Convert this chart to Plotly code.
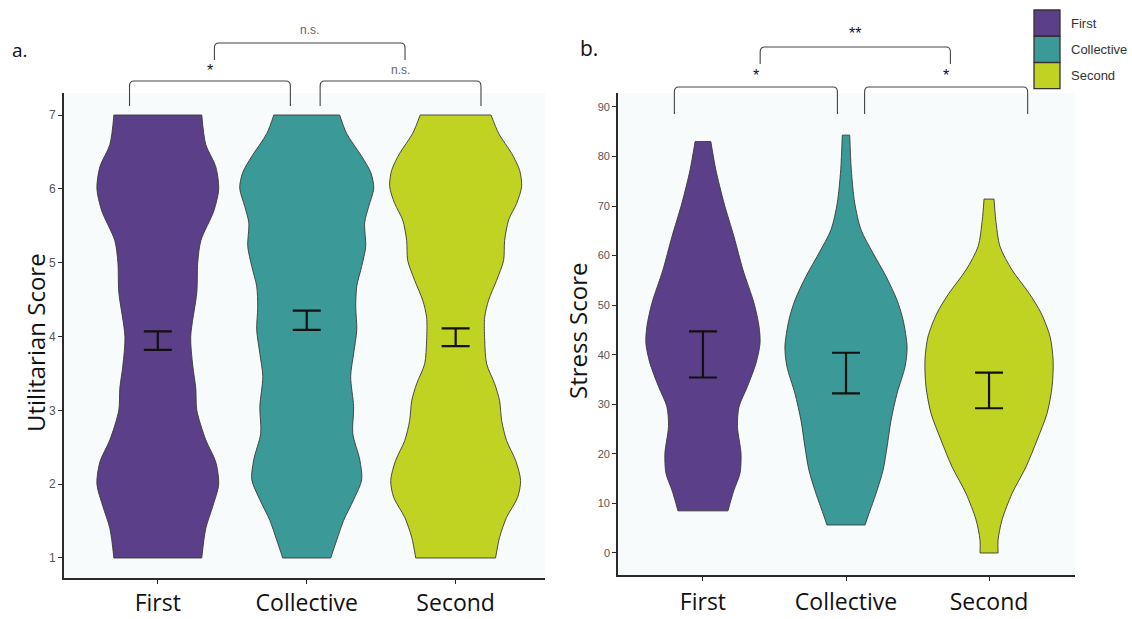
import numpy as np
import plotly.graph_objects as go

W, H = 1132, 619

categories = ["First", "Collective", "Second"]
colors = ["#5b3f88", "#3b9a97", "#c0d322"]

# ---- Panel a: Utilitarian Score violin profiles (score level, half-width in category units)
util_first_levels = [1.0, 1.4, 1.7, 2.0, 2.3, 2.6, 3.0, 3.3, 3.6, 4.0, 4.6, 5.0, 5.3, 5.7, 6.0, 6.3, 6.6, 7.0]
util_first_width = [0.295, 0.322, 0.369, 0.409, 0.389, 0.322, 0.262, 0.255, 0.235, 0.221, 0.262, 0.268,
                    0.289, 0.376, 0.409, 0.389, 0.322, 0.295]
util_coll_levels = [1.0, 1.24, 1.51, 1.79, 2.06, 2.33, 2.69, 3.05, 3.46, 3.77, 4.09, 4.40, 4.68, 4.95,
                    5.22, 5.54, 5.76, 6.01, 6.22, 6.44, 6.75, 7.0]
util_coll_width = [0.161, 0.201, 0.248, 0.315, 0.369, 0.356, 0.309, 0.315, 0.295, 0.315, 0.336, 0.329,
                   0.336, 0.369, 0.396, 0.389, 0.416, 0.450, 0.430, 0.369, 0.268, 0.221]
util_second_levels = [1.0, 1.28, 1.55, 1.82, 2.05, 2.32, 2.59, 2.86, 3.13, 3.36, 3.63, 3.95, 4.26, 4.49,
                      4.76, 5.03, 5.30, 5.58, 5.80, 6.03, 6.25, 6.48, 6.75, 7.0]
util_second_width = [0.268, 0.295, 0.342, 0.416, 0.436, 0.403, 0.342, 0.309, 0.295, 0.262, 0.208, 0.195,
                     0.195, 0.221, 0.275, 0.322, 0.329, 0.356, 0.409, 0.443, 0.430, 0.376, 0.289, 0.238]
util_ci_low = [3.82, 4.09, 3.87]
util_ci_high = [4.07, 4.35, 4.11]
util_ticks = [1, 2, 3, 4, 5, 6, 7]

# ---- Panel b: Stress Score violin profiles
stress_first_levels = [8.5, 10.0, 12.7, 16.1, 20.1, 25.5, 29.5, 33.6, 38.3, 42.3, 45.7, 50.4, 57.1,
                       63.8, 70.6, 77.3, 83.0]
stress_first_width = [0.175, 0.189, 0.217, 0.259, 0.266, 0.241, 0.252, 0.311, 0.371, 0.399, 0.392,
                      0.357, 0.280, 0.217, 0.147, 0.090, 0.055]
stress_coll_levels = [5.65, 8.0, 12.0, 16.7, 21.4, 26.8, 32.2, 37.6, 41.6, 47.0, 51.0, 55.8, 60.5,
                      65.2, 70.6, 77.3, 84.3]
stress_coll_width = [0.133, 0.161, 0.210, 0.259, 0.287, 0.315, 0.357, 0.413, 0.427, 0.399, 0.357,
                     0.280, 0.189, 0.105, 0.061, 0.037, 0.026]
stress_second_levels = [0.0, 2.6, 6.7, 12.0, 17.4, 22.8, 28.2, 33.6, 38.9, 43.6, 48.4, 52.4, 57.1,
                        61.8, 67.2, 71.4]
stress_second_width = [0.063, 0.063, 0.091, 0.161, 0.259, 0.336, 0.406, 0.441, 0.448, 0.427, 0.364,
                       0.280, 0.161, 0.077, 0.047, 0.035]
stress_ci_low = [35.4, 32.2, 29.2]
stress_ci_high = [44.7, 40.4, 36.4]
stress_ticks = [0, 10, 20, 30, 40, 50, 60, 70, 80, 90]

# significance comparisons: (x start, x end, label, tier)
util_sig = [(-0.19, 0.89, "*", 0), (1.09, 2.17, "n.s.", 0), (0.38, 1.66, "n.s.", 1)]
stress_sig = [(-0.20, 0.94, "*", 0), (1.13, 2.27, "*", 0), (0.40, 1.73, "**", 1)]


def py(p):
    return 1 - p / H


def px(p):
    return p / W


fig = go.Figure()
OUTLINE = "#3a3a3a"


def add_violin(i, levels, widths, color, xa, ya):
    lv = np.asarray(levels, dtype=float)
    hw = np.asarray(widths, dtype=float)
    side = dict(color=OUTLINE, width=0.9, shape="spline", smoothing=0.8)
    common = dict(xaxis=xa, yaxis=ya, hoverinfo="skip", showlegend=False, mode="lines")
    fig.add_trace(go.Scatter(x=i - hw, y=lv, line=side, **common))
    fig.add_trace(go.Scatter(x=i + hw, y=lv, line=side, fill="tonextx", fillcolor=color, **common))
    fig.add_trace(go.Scatter(x=[i - hw[0], i + hw[0], None, i - hw[-1], i + hw[-1]],
                             y=[lv[0], lv[0], None, lv[-1], lv[-1]],
                             line=dict(color=OUTLINE, width=0.9), **common))


def add_ci(lo, hi, xa, ya):
    lo = np.asarray(lo); hi = np.asarray(hi)
    mid = (lo + hi) / 2
    fig.add_trace(go.Scatter(x=list(range(len(mid))), y=mid, mode="markers",
                             marker=dict(size=1, color="rgba(0,0,0,0)"),
                             error_y=dict(type="data", symmetric=False, array=hi - mid,
                                          arrayminus=mid - lo, width=14, thickness=2.2,
                                          color="#111111"),
                             xaxis=xa, yaxis=ya, hoverinfo="skip", showlegend=False))


add_violin(0, util_first_levels, util_first_width, colors[0], "x", "y")
add_violin(1, util_coll_levels, util_coll_width, colors[1], "x", "y")
add_violin(2, util_second_levels, util_second_width, colors[2], "x", "y")
add_violin(0, stress_first_levels, stress_first_width, colors[0], "x2", "y2")
add_violin(1, stress_coll_levels, stress_coll_width, colors[1], "x2", "y2")
add_violin(2, stress_second_levels, stress_second_width, colors[2], "x2", "y2")
add_ci(util_ci_low, util_ci_high, "x", "y")
add_ci(stress_ci_low, stress_ci_high, "x2", "y2")

shapes = []
annotations = []


def add_brackets(sig, xref, tiers, dx):
    for x0, x1, label, tier in sig:
        top_px, bot_px, txt_px = tiers[tier]
        yt, yb = py(top_px), py(bot_px)
        r = 5 / H
        path = (f"M {x0},{yb} L {x0},{yt - r} Q {x0},{yt} {x0 + dx},{yt} "
                f"L {x1 - dx},{yt} Q {x1},{yt} {x1},{yt - r} L {x1},{yb}")
        shapes.append(dict(type="path", path=path, xref=xref, yref="paper",
                           line=dict(color="#444444", width=1.1), layer="above"))
        is_ns = label == "n.s."
        annotations.append(dict(x=(x0 + x1) / 2, y=py(txt_px), xref=xref, yref="paper",
                                text=label, showarrow=False, xanchor="center", yanchor="middle",
                                font=dict(family="Liberation Sans", size=12 if is_ns else 16,
                                          color="#666666" if is_ns else "#111111")))


add_brackets(util_sig, "x", {0: (81, 106, 70), 1: (43, 60, 30)}, 0.03)
add_brackets(stress_sig, "x2", {0: (87, 114, 75), 1: (47, 64, 33)}, 0.03)

# axis titles and panel letters
txt = dict(xref="paper", yref="paper", showarrow=False, xanchor="center", yanchor="middle")
annotations += [
    dict(x=px(35), y=py(343), text="Utilitarian Score", textangle=-90,
         font=dict(family="Open Sans", size=24, color="#111111"), **txt),
    dict(x=px(577), y=py(331), text="Stress Score", textangle=-90,
         font=dict(family="Open Sans", size=24, color="#111111"), **txt),
    dict(x=px(20), y=py(50), text="a.", font=dict(family="Open Sans", size=19, color="#111111"), **txt),
    dict(x=px(589), y=py(48), text="b.", font=dict(family="Open Sans", size=21, color="#111111"), **txt),
]

# legend (drawn manually)
for k, (name, col) in enumerate(zip(categories, colors)):
    y0 = 10 + 26.3 * k
    shapes.append(dict(type="rect", xref="paper", yref="paper", x0=px(1034), x1=px(1060),
                       y0=py(y0 + 26), y1=py(y0), fillcolor=col,
                       line=dict(color="#333333", width=1.3)))
    annotations.append(dict(x=px(1069), y=py(y0 + 13), xref="paper", yref="paper", text=name,
                            showarrow=False, xanchor="left", yanchor="middle",
                            font=dict(family="Liberation Sans", size=13, color="#333333")))

axis_common = dict(showgrid=False, zeroline=False, showline=True, linecolor="#2b2b2b",
                   linewidth=1.6, ticks="outside", ticklen=4, tickcolor="#2b2b2b", fixedrange=True,
                   automargin=False)
xfont = dict(family="Open Sans", size=23, color="#111111")
yfont = dict(family="Liberation Sans", size=12, color="#555555")

fig.update_layout(
    width=W, height=H, autosize=False,
    margin=dict(l=0, r=0, t=0, b=0),
    paper_bgcolor="#ffffff", plot_bgcolor="#f8fbfb",
    showlegend=False,
    xaxis=dict(domain=[px(64), px(545)], range=[-0.63, 2.6], tickvals=[0, 1, 2], ticktext=categories,
               tickfont=xfont, anchor="y", ticklabelstandoff=0, **axis_common),
    yaxis=dict(domain=[py(578), py(93)], range=[0.729, 7.298], tickvals=util_ticks,
               tickfont=yfont, anchor="x", **axis_common),
    xaxis2=dict(domain=[px(618), px(1075)], range=[-0.594, 2.601], tickvals=[0, 1, 2],
                ticktext=categories, tickfont=xfont, anchor="y2", ticklabelstandoff=2, **axis_common),
    yaxis2=dict(domain=[py(575), py(93)], range=[-4.44, 92.8], tickvals=stress_ticks,
                tickfont=dict(family="Liberation Sans", size=11, color="#555555"), anchor="x2",
                **axis_common),
    shapes=shapes,
    annotations=annotations,
)

fig.write_html("out.html",
               config={"displayModeBar": False, "responsive": False},
               post_script=("document.documentElement.style.margin='0';"
                            "document.documentElement.style.overflow='hidden';"
                            "document.body.style.margin='0';document.body.style.overflow='hidden';"))
